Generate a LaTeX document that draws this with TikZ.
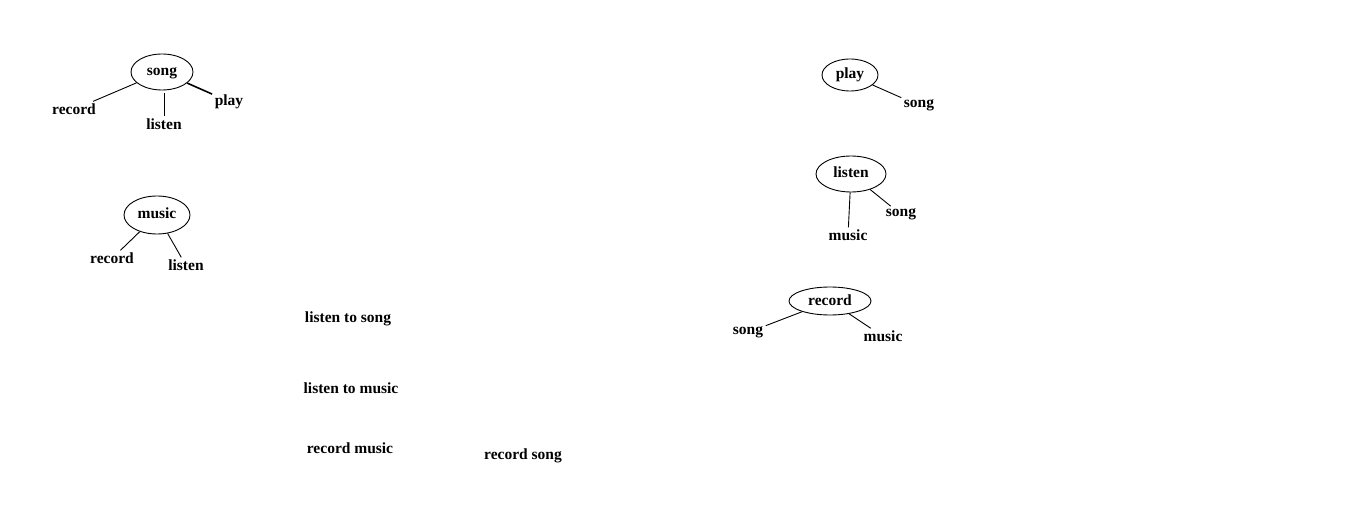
\documentclass[tikz,border=0pt]{standalone}
\usepackage{fontspec}
\setmainfont{Liberation Serif}
\usetikzlibrary{shapes.geometric}
\newcommand{\lowr}[1]{\raisebox{-4pt}[0pt][0pt]{#1}}
\begin{document}
\begin{tikzpicture}[x=1pt,y=-1pt,
  word/.style={font=\fontsize{15.5}{17}\selectfont\bfseries, inner sep=2.5pt, yshift=-2.5pt},
  oval/.style={draw, ellipse, inner sep=0pt, font=\fontsize{15.5}{17}\selectfont\bfseries, line width=0.9pt},
  link/.style={line width=0.9pt}]
\useasboundingbox (0,0) rectangle (1348,529);
% song tree
\node[oval, minimum width=62pt, minimum height=36pt] (song) at (162,72) {\lowr{song}};
\node[word] (s-rec) at (74,107) {record};
\node[word] (s-lis) at (164,122) {listen};
\node[word] (s-play) at (229,99) {play};
\draw[link] (song) -- (s-rec);
\draw[link] (song.south) ++(2,3) -- (s-lis.north);
\draw[line width=1.6pt] (song) -- (s-play);
% music tree
\node[oval, minimum width=66pt, minimum height=38pt] (music) at (157,215) {\lowr{music}};
\node[word] (m-rec) at (112,256) {record};
\node[word] (m-lis) at (186,263) {listen};
\draw[link] (music) -- (m-rec);
\draw[link] (music) -- (m-lis);
% play tree
\node[oval, minimum width=56pt, minimum height=32pt] (play) at (850,75) {\lowr{play}};
\node[word] (p-song) at (919,103) {song};
\draw[link] (play) -- (p-song);
% listen tree
\node[oval, minimum width=70pt, minimum height=36pt] (listen) at (851,174) {\lowr{listen}};
\node[word] (l-mus) at (848,233) {music};
\node[word] (l-song) at (901,212) {song};
\draw[link] (listen) -- (l-mus);
\draw[link] (listen) -- (l-song);
% record tree
\node[oval, minimum width=82pt, minimum height=28pt] (record) at (830,301) {\lowr{record}};
\node[word] (r-song) at (748,330) {song};
\node[word] (r-mus) at (883,334) {music};
\draw[link] (record) -- (r-song);
\draw[link] (record) -- (r-mus);
% phrases
\node[word] (p1) at (348,316) {listen to song};
\node[word] (p2) at (351,386) {listen to music};
\node[word] (p3) at (350,446) {record music};
\node[word] (p4) at (523,453) {record song};
\end{tikzpicture}
\end{document}
